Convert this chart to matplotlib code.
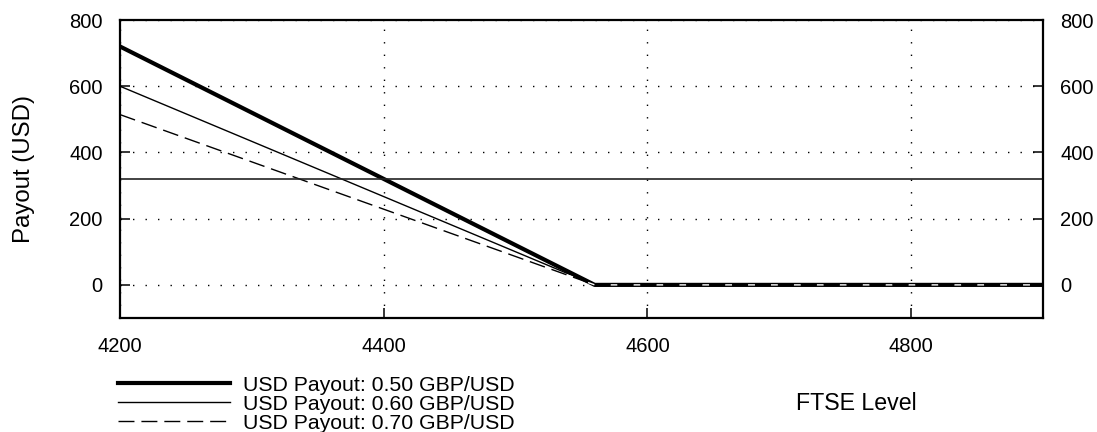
import matplotlib
matplotlib.use("Agg")
import matplotlib.pyplot as plt
import numpy as np

plt.rcParams['font.family'] = ['Liberation Sans', 'DejaVu Sans']
plt.rcParams['font.size'] = 14.5

# FTSE put payout converted to USD at three exchange rates
strike = 4560
ftse_levels = [4200, 4560, 4900]
fx_rates = [0.50, 0.60, 0.70]
series_labels = ["USD Payout: 0.50 GBP/USD",
                 "USD Payout: 0.60 GBP/USD",
                 "USD Payout: 0.70 GBP/USD"]
reference_level = 320

x_ticks = [4200, 4400, 4600, 4800]
y_ticks = [0, 200, 400, 600, 800]

styles = [dict(lw=3.0, ls='-'),
          dict(lw=1.0, ls='-'),
          dict(lw=1.0, ls=(0, (11.5, 5)), gapcolor='white')]

fig = plt.figure(figsize=(10.97, 4.32), dpi=100)
ax = fig.add_axes([0.1094, 0.2639, 0.8414, 0.6898])

x = np.array(ftse_levels)
handles = []
for rate, label, st in zip(fx_rates, series_labels, styles):
    payout = np.maximum(strike - x, 0) / rate
    h, = ax.plot(x, payout, color='black', label=label, **st)
    handles.append(h)

ax.axhline(reference_level, color='#222222', lw=1.2)

ax.set_xlim(4200, 4900)
ax.set_ylim(-100, 800)
ax.set_xticks(x_ticks)
ax.set_yticks(y_ticks)
ax.grid(True, color='black', ls=(0, (1, 8)), lw=1.0)

ax.tick_params(direction='in', length=7.5, width=1.1,
               left=True, right=True, bottom=True, top=False,
               labelleft=True, labelright=True)
ax.tick_params(axis='y', pad=12.5)
ax.tick_params(axis='x', pad=14)
for sp in ax.spines.values():
    sp.set_linewidth(1.6)

fig.text(24 / 1097, 0.609, "Payout (USD)", rotation=90,
         ha='center', va='center', fontsize=17.3)
fig.text(0.781, 0.065, "FTSE Level", ha='center', va='center',
         fontsize=16.7)

fig.legend(handles=handles, loc='upper left',
           bbox_to_anchor=(0.1076, 0.13), frameon=False,
           fontsize=15.3, handlelength=5.27, handletextpad=0.6,
           labelspacing=0.0, borderpad=0, borderaxespad=0)

fig.savefig("out.png", dpi=100)
